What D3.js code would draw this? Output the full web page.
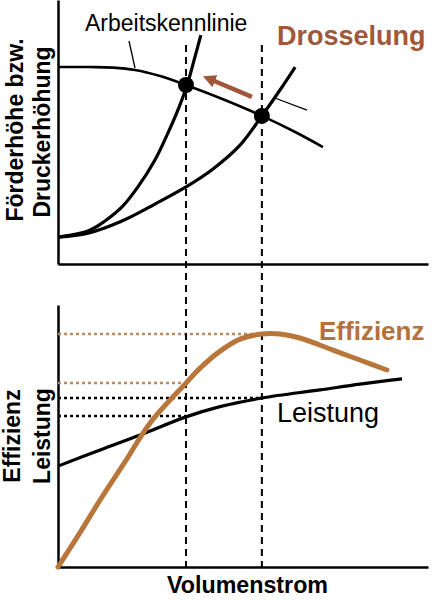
<!DOCTYPE html>
<html>
<head>
<meta charset="utf-8">
<script src="https://cdn.jsdelivr.net/npm/d3@7"></script>
<style>
  body { margin: 0; background: #fff; }
  svg { display: block; font-family: "Liberation Sans", Arial, sans-serif; }
  .axis path { stroke: #000; stroke-width: 2.5; }
</style>
</head>
<body>
<div id="chart-area"></div>
<script>
// Volumenstrom in % (shared x), heights / values in % of each panel
const pumpFlow = [0, 8.6, 14.9, 20.8, 27.6, 34.6, 45.1, 55.1, 64.1, 71.6];
const pumpHead = [74.6, 74.6, 74.4, 73.5, 71.2, 67.8, 62.1, 56.1, 50.0, 44.3];
const throttledFlow = [0, 8.1, 12.7, 17.3, 21.6, 26.2, 29.7, 32.4, 34.9, 36.8, 38.6];
const throttledHead = [10.2, 12.5, 16.3, 21.6, 29.2, 39.4, 49.6, 58.3, 67.8, 77.3, 86.7];
const systemFlow = [0, 8.1, 17.3, 26.2, 34.6, 41.9, 49.2, 55.1, 60.0, 64.1];
const systemHead = [10.2, 11.7, 16.3, 22.7, 29.2, 36.0, 45.0, 56.1, 65.9, 74.6];
const tangentFlow = [58.6, 67.3];
const tangentHead = [62.9, 58.3];
const arrowFlow = [52.4, 39.7];
const arrowHead = [63.3, 70.8];
const opFlow = [34.6, 55.1];
const opHead = [67.8, 56.1];

const powerFlow = [0, 11.4, 22.2, 34.6, 43.8, 55.1, 70.8, 81.6, 93.0];
const powerValue = [38.5, 44.7, 50.4, 57.3, 61.2, 64.5, 67.6, 69.8, 71.8];
const effFlow = [0, 5.9, 11.4, 18.1, 24.9, 34.6, 38.4, 43.8, 49.2, 55.1, 60.0, 65.4, 74.3, 81.6, 88.9];
const effValue = [0, 13.0, 25.6, 40.1, 55.0, 70.2, 75.9, 82.4, 87.0, 88.9, 88.9, 87.4, 82.8, 79.0, 75.2];
const effRefs = [88.9, 70.2];
const powerRefs = [64.5, 57.6];
const dashTop = 83;

const brown = "#b8763a";
const darkBrown = "#a0573a";
const lightBrown = "#b88a60";

const zip = (xs, ys) => xs.map((v, i) => ({ x: v, y: ys[i] }));

const main = () => {
    const svg = d3.select("#chart-area")
        .append("svg")
        .attr("width", 435)
        .attr("height", 600);

    const x = d3.scaleLinear().domain([0, 100]).range([58, 428]);
    const yTop = d3.scaleLinear().domain([0, 100]).range([264, 0]);
    const yBottom = d3.scaleLinear().domain([0, 100]).range([567, 305]);

    const smooth = d3.curveCatmullRom.alpha(0.5);
    const lineTop = d3.line().x(d => x(d.x)).y(d => yTop(d.y)).curve(smooth);
    const lineBottom = d3.line().x(d => x(d.x)).y(d => yBottom(d.y)).curve(smooth);

    // axes (no ticks)
    [[yTop, 264], [yBottom, 567]].forEach(([y, base]) => {
        svg.append("g").attr("class", "axis")
            .attr("transform", "translate(58,0)")
            .call(d3.axisLeft(y).tickValues([]).tickSizeOuter(0));
        svg.append("g").attr("class", "axis")
            .attr("transform", `translate(0,${base})`)
            .call(d3.axisBottom(x).tickValues([]).tickSizeOuter(0));
    });

    // dotted reference lines in the lower panel
    effRefs.forEach((v, i) => {
        svg.append("line")
            .attr("x1", x(0)).attr("x2", x(opFlow[1 - i]))
            .attr("y1", yBottom(v)).attr("y2", yBottom(v))
            .attr("stroke", lightBrown).attr("stroke-width", 2.5)
            .attr("stroke-dasharray", "3,3");
    });
    powerRefs.forEach((v, i) => {
        svg.append("line")
            .attr("x1", x(0)).attr("x2", x(opFlow[1 - i]))
            .attr("y1", yBottom(v)).attr("y2", yBottom(v))
            .attr("stroke", "#000").attr("stroke-width", 2.5)
            .attr("stroke-dasharray", "3,3");
    });

    // dashed verticals through the operating points
    opFlow.forEach(f => {
        svg.append("line")
            .attr("x1", x(f)).attr("x2", x(f))
            .attr("y1", yTop(dashTop)).attr("y2", yBottom(0))
            .attr("stroke", "#000").attr("stroke-width", 2)
            .attr("stroke-dasharray", "7,5");
    });

    // top panel curves
    svg.append("path").attr("d", lineTop(zip(systemFlow, systemHead)))
        .attr("fill", "none").attr("stroke", "#000").attr("stroke-width", 3.2);
    svg.append("path").attr("d", lineTop(zip(throttledFlow, throttledHead)))
        .attr("fill", "none").attr("stroke", "#000").attr("stroke-width", 3.2);
    svg.append("path").attr("d", lineTop(zip(pumpFlow, pumpHead)))
        .attr("fill", "none").attr("stroke", "#000").attr("stroke-width", 2.6);
    svg.append("line")
        .attr("x1", x(tangentFlow[0])).attr("y1", yTop(tangentHead[0]))
        .attr("x2", x(tangentFlow[1])).attr("y2", yTop(tangentHead[1]))
        .attr("stroke", "#000").attr("stroke-width", 1.2);

    svg.selectAll(".op").data(zip(opFlow, opHead)).join("circle")
        .attr("class", "op")
        .attr("cx", d => x(d.x)).attr("cy", d => yTop(d.y))
        .attr("r", 8).attr("fill", "#000");

    // throttling arrow
    svg.append("defs").append("marker")
        .attr("id", "head")
        .attr("markerUnits", "userSpaceOnUse")
        .attr("viewBox", "0 0 10 10")
        .attr("refX", 5).attr("refY", 5)
        .attr("markerWidth", 13).attr("markerHeight", 13)
        .attr("orient", "auto")
        .append("path").attr("d", "M0,0L10,5L0,10Z").attr("fill", darkBrown);
    svg.append("line")
        .attr("x1", x(arrowFlow[0])).attr("y1", yTop(arrowHead[0]))
        .attr("x2", x(arrowFlow[1]) + 4).attr("y2", yTop(arrowHead[1]) + 1.7)
        .attr("stroke", darkBrown).attr("stroke-width", 4.5)
        .attr("marker-end", "url(#head)");

    // label with leader
    svg.append("line")
        .attr("x1", 129).attr("y1", 41).attr("x2", 135).attr("y2", 68)
        .attr("stroke", "#000").attr("stroke-width", 1.3);
    svg.append("text").attr("x", 85).attr("y", 31)
        .attr("font-size", 23).text("Arbeitskennlinie");
    svg.append("text").attr("x", 277).attr("y", 45)
        .attr("font-size", 27).attr("font-weight", "bold")
        .attr("fill", darkBrown).text("Drosselung");

    // bottom panel curves
    svg.append("path").attr("d", lineBottom(zip(powerFlow, powerValue)))
        .attr("fill", "none").attr("stroke", "#000").attr("stroke-width", 3.2);
    svg.append("path").attr("d", lineBottom(zip(effFlow, effValue)))
        .attr("fill", "none").attr("stroke", brown).attr("stroke-width", 5)
        .attr("stroke-linecap", "round");

    svg.append("text").attr("x", 319).attr("y", 340)
        .attr("font-size", 26).attr("font-weight", "bold")
        .attr("fill", "#b3713c").text("Effizienz");
    svg.append("text").attr("x", 277).attr("y", 422)
        .attr("font-size", 27).text("Leistung");

    // axis titles
    svg.append("text").attr("x", 167).attr("y", 593)
        .attr("font-size", 23).attr("font-weight", "bold")
        .attr("textLength", 161).attr("lengthAdjust", "spacingAndGlyphs")
        .text("Volumenstrom");
    const yTitle = (text, bx, cy) => svg.append("text")
        .attr("transform", `translate(${bx},${cy}) rotate(-90)`)
        .attr("text-anchor", "middle").attr("font-size", 23)
        .attr("font-weight", "bold").text(text);
    yTitle("Förderhöhe bzw.", 23, 130);
    yTitle("Druckerhöhung", 50, 132);
    yTitle("Effizienz", 20, 436);
    yTitle("Leistung", 50, 436);
};
window.onload = main;
</script>
</body>
</html>
